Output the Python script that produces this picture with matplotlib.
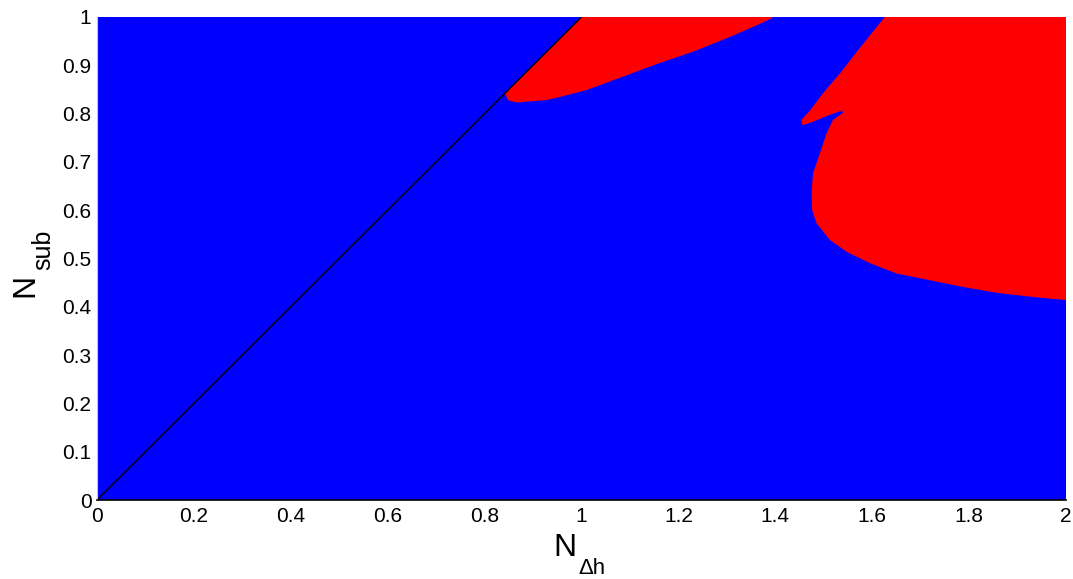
import matplotlib
matplotlib.use("Agg")
import matplotlib.pyplot as plt
import numpy as np

plt.rcParams['font.family'] = ['Liberation Sans', 'DejaVu Sans']

# Diagonal reference line
diag_x = [0.0, 1.0]
diag_y = [0.0, 1.0]

# Red region 1 (bounded by diagonal on the left, top edge, lower curve)
reg1_x = [0.842, 1.0, 1.395, 1.392, 1.362, 1.300, 1.230, 1.162, 1.079, 1.011, 0.962, 0.928, 0.866, 0.848]
reg1_y = [0.842, 1.0, 1.000, 0.997, 0.983, 0.956, 0.928, 0.905, 0.874, 0.849, 0.836, 0.828, 0.823, 0.828]

# Red region 2 (right side, with spike)
reg2_x = [1.626, 1.596, 1.568, 1.534, 1.499, 1.472, 1.454, 1.456,
          1.478, 1.506, 1.537, 1.540, 1.519, 1.506, 1.492, 1.478, 1.475, 1.476,
          1.485, 1.513, 1.547, 1.596, 1.650, 1.719, 1.788, 1.857, 1.926, 2.000,
          2.000]
reg2_y = [1.000, 0.963, 0.928, 0.884, 0.843, 0.807, 0.787, 0.776,
          0.783, 0.795, 0.806, 0.802, 0.787, 0.760, 0.718, 0.677, 0.642, 0.600,
          0.573, 0.538, 0.514, 0.490, 0.469, 0.455, 0.441, 0.429, 0.421, 0.414,
          1.000]

xticks = [0, 0.2, 0.4, 0.6, 0.8, 1, 1.2, 1.4, 1.6, 1.8, 2]
xticklabels = ['0', '0.2', '0.4', '0.6', '0.8', '1', '1.2', '1.4', '1.6', '1.8', '2']
yticks = [0, 0.1, 0.2, 0.3, 0.4, 0.5, 0.6, 0.7, 0.8, 0.9, 1]
yticklabels = ['0', '0.1', '0.2', '0.3', '0.4', '0.5', '0.6', '0.7', '0.8', '0.9', '1']

W, H = 1073, 579
fig = plt.figure(figsize=(W / 100, H / 100), dpi=100)
ax = fig.add_axes([97 / W, 1 - 500 / H, (1066 - 97) / W, (500 - 17) / H])
ax.set_facecolor('#0000ff')
ax.fill(reg1_x, reg1_y, color='#ff0000', lw=0)
ax.fill(reg2_x, reg2_y, color='#ff0000', lw=0)
ax.plot(diag_x, diag_y, color='black', lw=1)

ax.set_xlim(0, 2)
ax.set_ylim(0, 1)
ax.set_xticks(xticks)
ax.set_xticklabels(xticklabels)
ax.set_yticks(yticks)
ax.set_yticklabels(yticklabels)
ax.tick_params(length=0, labelsize=15)
ax.tick_params(axis='x', pad=5)
ax.tick_params(axis='y', pad=4)
for s in ['top', 'right']:
    ax.spines[s].set_visible(False)
ax.spines['left'].set_color('#c8c8c8')
ax.spines['left'].set_linewidth(0.8)
ax.spines['bottom'].set_color('black')
ax.spines['bottom'].set_linewidth(1.2)


def px(x, y):
    return x / W, 1 - y / H


# x label: N with subscript Δh
fig.text(*px(553, 556), 'N', fontsize=23, ha='left', va='baseline')
fig.text(*px(578, 574), 'Δh', fontsize=16, ha='left', va='baseline')
# y label: N with subscript sub (rotated)
fig.text(*px(33, 297), 'N', fontsize=23, rotation=90, rotation_mode='anchor',
         ha='left', va='baseline')
fig.text(*px(50, 270), 'sub', fontsize=18, rotation=90, rotation_mode='anchor',
         ha='left', va='baseline')

fig.savefig('out.png', dpi=100)
